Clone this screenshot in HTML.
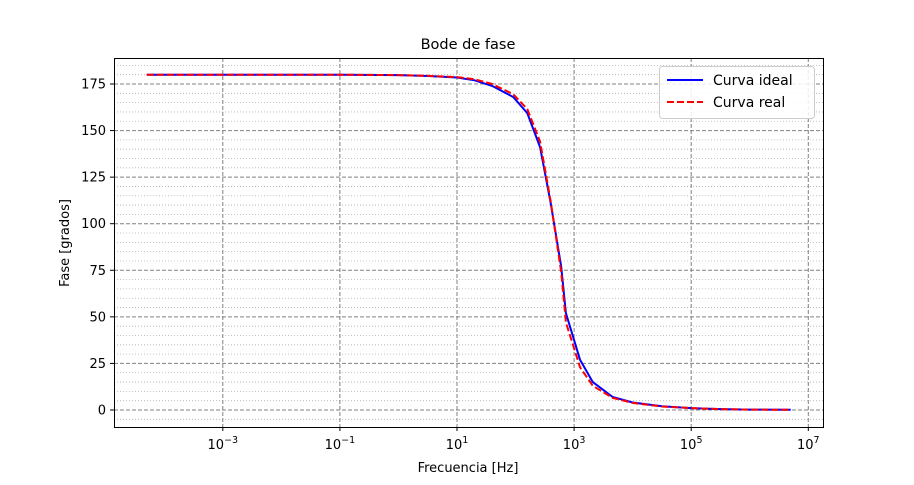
<!DOCTYPE html>
<html><head><meta charset="utf-8"><style>
body{margin:0;background:#fff}
svg text{font-family:"DejaVu Sans","Liberation Sans",sans-serif;fill:#000}
</style></head><body>
<svg id="c" width="914" height="480" viewBox="0 0 914 480">
<rect width="914" height="480" fill="#fff"/>
<g id="grid"></g>
<g id="series"></g>
<rect x="114.5" y="58.5" width="709" height="369" fill="none" stroke="#000" stroke-width="1"/>
<g id="axes"></g>
<text x="468" y="49" font-size="14.5" text-anchor="middle">Bode de fase</text>
<text x="468" y="472" font-size="13" text-anchor="middle">Frecuencia [Hz]</text>
<text transform="translate(69,243) rotate(-90)" font-size="13" text-anchor="middle">Fase [grados]</text>
<g>
<rect x="659.5" y="66.5" width="155" height="52" rx="3" fill="#fff" fill-opacity="0.85" stroke="#ccc"/>
<line x1="667" y1="80" x2="703" y2="80" stroke="#0000ff" stroke-width="2"/>
<text x="713" y="85" font-size="14">Curva ideal</text>
<line x1="667" y1="102" x2="703" y2="102" stroke="#ff0000" stroke-width="2" stroke-dasharray="7,3"/>
<text x="713" y="107" font-size="14">Curva real</text>
</g>
</svg>
<script>
const logFreq=[-4.3,-2,-1,0,0.5,1,1.3,1.6,1.96,2.2,2.42,2.6,2.78,2.86,3.1,3.32,3.66,4,4.5,5,5.5,6,6.7];
const phaseIdeal=[180,180,180,179.8,179.3,178.5,177,174,168,159.4,141,111,77,52,27,15,7,4,2,1,0.5,0.2,0.1];
const phaseReal=[180,180,180,179.8,179.4,178.7,177.5,175,169.5,161.5,144,112,74,47,23,13,6.5,3.8,1.9,1,0.5,0.2,0.1];
const yTicks=[0,25,50,75,100,125,150,175];
const xTickExp=[-3,-1,1,3,5,7];
const NS="http://www.w3.org/2000/svg";
function X(lf){return 457+(lf-1)*58.55;}
function Y(v){return 410-v*1.8629;}
function mk(tag,attrs,parent){const e=document.createElementNS(NS,tag);for(const k in attrs)e.setAttribute(k,attrs[k]);parent.appendChild(e);return e;}
const grid=document.getElementById('grid'),axes=document.getElementById('axes'),series=document.getElementById('series');
for(let v=-5;v<=185;v+=5){if(v%25===0)continue;const y=Y(v);if(y<59||y>427)continue;
 const l=mk('line',{x1:114,x2:823,y1:y,y2:y,stroke:'#b0b0b0','stroke-width':0.8,'stroke-dasharray':'1,2'},grid);
 
 }
yTicks.forEach(v=>{const y=Y(v);
 const l=mk('line',{x1:114,x2:823,y1:y,y2:y,stroke:'#808080','stroke-width':1,'stroke-dasharray':'4,2'},grid);
 
 
 mk('line',{x1:110,x2:114,y1:y,y2:y,stroke:'#000'},axes);
 const t=mk('text',{x:106,y:y+4.5,'font-size':13,'text-anchor':'end'},axes);t.textContent=v;
 
 });
xTickExp.forEach(e=>{const x=X(e);
 const l=mk('line',{x1:x,x2:x,y1:58,y2:427,stroke:'#808080','stroke-width':1,'stroke-dasharray':'4,2'},grid);
 
 
 mk('line',{x1:x,x2:x,y1:427,y2:431,stroke:'#000'},axes);
 const t=mk('text',{x:x,y:449,'font-size':13,'text-anchor':'middle'},axes);
 
 
 t.appendChild(document.createTextNode('10'));
 const s=mk('tspan',{dy:-6,'font-size':9.5},t);s.textContent=String(e).replace('-','\u2212');});
function path(vals){return vals.map((v,i)=>(i?'L':'M')+X(logFreq[i]).toFixed(1)+','+Y(v).toFixed(1)).join(' ');}
const pi=mk('path',{d:path(phaseIdeal),fill:'none',stroke:'#0000ff','stroke-width':2},series);


const pr=mk('path',{d:path(phaseReal),fill:'none',stroke:'#ff0000','stroke-width':2,'stroke-dasharray':'7,3'},series);


</script>
</body></html>
